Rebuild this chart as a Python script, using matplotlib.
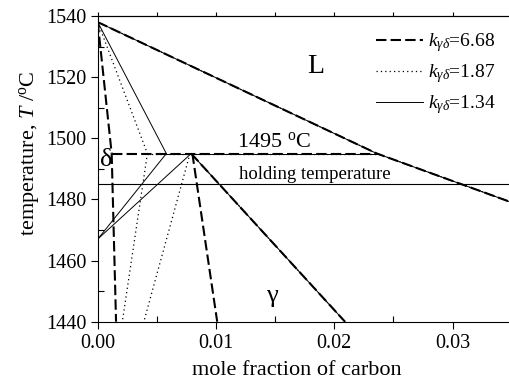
import numpy as np
import matplotlib
matplotlib.use("Agg")
from matplotlib import pyplot as plt
from matplotlib.ticker import MultipleLocator, FormatStrFormatter

plt.rcParams['font.family'] = ['Liberation Serif', 'DejaVu Serif']
plt.rcParams['mathtext.fontset'] = 'custom'
plt.rcParams['mathtext.rm'] = 'Liberation Serif'
plt.rcParams['mathtext.it'] = 'Liberation Serif:italic'

# common curves (same for every k)
liq_x = [0.0, 0.0236, 0.035]
liq_T = [1538, 1495, 1479]
gsol_x = [0.0079, 0.0209]
gsol_T = [1495, 1440]
T_peri = 1495
T_hold = 1485
x_peri_end = 0.0236

# k = 6.68 (dashed)
k1_dsol_x = [0.0, 0.00118]
k1_dsol_T = [1538, 1495]
k1_dsolv_x = [0.00118, 0.00155]
k1_dsolv_T = [1495, 1440]
k1_gsolv_x = [0.0080, 0.0101]
k1_gsolv_T = [1495, 1440]

# k = 1.87 (dotted)
k2_dsol_x = [0.0, 0.0042]
k2_dsol_T = [1538, 1495]
k2_dsolv_x = [0.0042, 0.00208]
k2_dsolv_T = [1495, 1440]
k2_gsolv_x = [0.0078, 0.0039]
k2_gsolv_T = [1495, 1440]

# k = 1.34 (thin solid)
k3_dsol_x = [0.0, 0.0058]
k3_dsol_T = [1538, 1495]
k3_dsolv_x = [0.0058, 0.0]
k3_dsolv_T = [1495, 1467]
k3_gsolv_x = [0.0079, 0.0]
k3_gsolv_T = [1495, 1467]

labels = [r'$k_{\gamma\delta}$=6.68', r'$k_{\gamma\delta}$=1.87', r'$k_{\gamma\delta}$=1.34']

fig = plt.figure(figsize=(5.1, 3.88), dpi=100)
ax = fig.add_axes([0.1916, 0.1709, 0.8119, 0.7879])

styles = [dict(color='k', lw=1.5, dashes=(5, 2)),
          dict(color='k', lw=0.9, dashes=(1, 2.5)),
          dict(color='k', lw=0.7, linestyle='-')]
sets = [(k1_dsol_x, k1_dsol_T, k1_dsolv_x, k1_dsolv_T, k1_gsolv_x, k1_gsolv_T),
        (k2_dsol_x, k2_dsol_T, k2_dsolv_x, k2_dsolv_T, k2_gsolv_x, k2_gsolv_T),
        (k3_dsol_x, k3_dsol_T, k3_dsolv_x, k3_dsolv_T, k3_gsolv_x, k3_gsolv_T)]

handles = []
for st, s, lab in zip(styles, sets, labels):
    h, = ax.plot(s[0], s[1], label=lab, **st)
    handles.append(h)
    ax.plot(s[2], s[3], **st)
    ax.plot(s[4], s[5], **st)
    # peritectic isotherm from the delta-solidus end to the liquidus
    ax.plot([s[0][-1], x_peri_end], [T_peri, T_peri], **st)
    ax.plot(liq_x, liq_T, **st)
    ax.plot(gsol_x, gsol_T, **st)

ax.axhline(T_hold, color='k', lw=0.8)

ax.text(0.0184, 1523.6, 'L', fontsize=20, ha='center', va='center')
ax.text(0.01175, 1497.2, r'1495 $^{\rm o}$C', fontsize=16, ha='left', va='baseline')
ax.text(0.0007, 1492.8, 'δ', fontsize=19, ha='center', va='center')
ax.text(0.01194, 1486.6, 'holding temperature', fontsize=13.5, ha='left', va='baseline')
ax.text(0.0147, 1448.4, 'γ', fontsize=19, ha='center', va='center')

ax.set_xlim(0, 0.035)
ax.set_ylim(1440, 1540)
ax.xaxis.set_major_locator(MultipleLocator(0.01))
ax.xaxis.set_minor_locator(MultipleLocator(0.005))
ax.xaxis.set_major_formatter(FormatStrFormatter('%.2f'))
ax.yaxis.set_major_locator(MultipleLocator(20))
ax.yaxis.set_minor_locator(MultipleLocator(10))
ax.tick_params(which='major', direction='out', length=5, width=0.8, labelsize=14.5, pad=3)
ax.tick_params(axis='x', which='major', pad=4)
ax.tick_params(which='minor', direction='in', length=4, width=0.8)
ax.spines['right'].set_visible(False)

top = ax.secondary_xaxis('top')
top.xaxis.set_major_locator(MultipleLocator(0.005))
top.tick_params(which='major', direction='out', length=3, width=0.8, labeltop=False)
top.tick_params(which='minor', length=0)

ax.set_xlabel('mole fraction of carbon', fontsize=16)
ax.set_ylabel(r'temperature, $T$ /$^{\rm o}$C', fontsize=16)
ax.xaxis.set_label_coords(0.48, -0.13)
ax.yaxis.set_label_coords(-0.135, 0.55)

ax.legend(handles=handles, loc='upper left', bbox_to_anchor=(0.672, 0.95),
          frameon=False, fontsize=14, handlelength=2.4, handletextpad=0.3,
          labelspacing=0.42, borderpad=0, borderaxespad=0)

fig.savefig('out.png', dpi=100)
